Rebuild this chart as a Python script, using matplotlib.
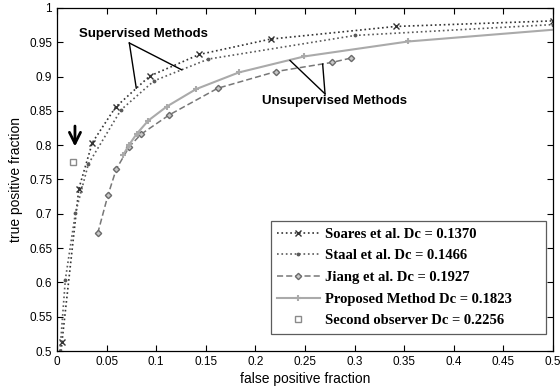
import matplotlib
matplotlib.use("Agg")
import matplotlib.pyplot as plt
import numpy as np

# ROC points
soares_x = [0.0042, 0.005, 0.022, 0.0356, 0.059, 0.0934, 0.1435, 0.2154, 0.3414, 0.5]
soares_y = [0.5, 0.513, 0.7366, 0.8037, 0.8554, 0.9007, 0.9323, 0.9547, 0.9731, 0.9812]

staal_x = [0.003, 0.0084, 0.0185, 0.0316, 0.0645, 0.0978, 0.1525, 0.3004, 0.5]
staal_y = [0.5, 0.604, 0.7007, 0.7726, 0.8515, 0.8938, 0.9255, 0.96, 0.9758]

jiang_x = [0.041, 0.0514, 0.0598, 0.0729, 0.0847, 0.1132, 0.162, 0.2208, 0.2769, 0.2964]
jiang_y = [0.6714, 0.7274, 0.7653, 0.7979, 0.816, 0.8442, 0.883, 0.9074, 0.9206, 0.927]

proposed_x = [0.0668, 0.0726, 0.0803, 0.092, 0.1106, 0.1401, 0.1832, 0.2493, 0.3541, 0.5]
proposed_y = [0.786, 0.8004, 0.8165, 0.8359, 0.8563, 0.8817, 0.906, 0.9294, 0.9512, 0.9683]

observer_x = [0.0165]
observer_y = [0.776]

labels = ["Soares et al. Dc = 0.1370",
          "Staal et al. Dc = 0.1466",
          "Jiang et al. Dc = 0.1927",
          "Proposed Method Dc = 0.1823",
          "Second observer Dc = 0.2256"]

plt.rcParams['font.family'] = ['Liberation Sans', 'DejaVu Sans']

fig = plt.figure(figsize=(5.6, 3.9), dpi=100)
ax = fig.add_axes([0.1018, 0.1, 0.8857, 0.8795])

ax.plot(soares_x, soares_y, color='#333333', linestyle=':', linewidth=1.2,
        marker='x', markersize=4, markeredgewidth=1.0,
        markevery=slice(1, None), label=labels[0])
ax.plot(staal_x, staal_y, color='#5a5a5a', linestyle=':', linewidth=1.2,
        marker='.', markersize=3.5, label=labels[1])
ax.plot(jiang_x, jiang_y, color='#777777', linestyle='--', linewidth=1.1,
        dashes=(4, 2), marker='D', markersize=3.2, markerfacecolor='#c8c8c8',
        markeredgecolor='#6a6a6a', label=labels[2])
ax.plot(proposed_x, proposed_y, color='#aaaaaa', linestyle='-', linewidth=1.5,
        marker='+', markersize=4.5, markeredgewidth=1.5,
        markevery=slice(0, -1), label=labels[3])
ax.plot(observer_x, observer_y, linestyle='none', marker='s', markersize=4,
        markerfacecolor='white', markeredgecolor='#8a8a8a', label=labels[4])

# arrow pointing at the second observer
ax.annotate("", xy=(0.0181, 0.794), xytext=(0.0181, 0.832),
            arrowprops=dict(arrowstyle='->', color='black', lw=2,
                            mutation_scale=20))

# callouts
ax.text(0.0872, 0.9625, "Supervised Methods", fontsize=9.5, fontweight='bold',
        ha='center', va='center')
ax.plot([0.0729, 0.0799], [0.949, 0.8832], color='black', linewidth=1)
ax.plot([0.0729, 0.1257], [0.949, 0.9099], color='black', linewidth=1)

ax.text(0.2802, 0.8646, "Unsupervised Methods", fontsize=9.5, fontweight='bold',
        ha='center', va='center')
ax.plot([0.2702, 0.2349], [0.8748, 0.9235], color='black', linewidth=1)
ax.plot([0.2702, 0.2678], [0.8748, 0.9182], color='black', linewidth=1)

ax.set_xlim(0, 0.5)
ax.set_ylim(0.5, 1)
ax.set_xticks(np.arange(0, 0.501, 0.05))
ax.set_yticks(np.arange(0.5, 1.001, 0.05))
ax.set_xticklabels([f"{v:g}" for v in np.round(np.arange(0, 0.501, 0.05), 2)])
ax.set_yticklabels([f"{v:g}" for v in np.round(np.arange(0.5, 1.001, 0.05), 2)])
ax.tick_params(direction='in', top=True, right=True, labelsize=8.5,
               length=4, width=0.8, colors='black')
for s in ax.spines.values():
    s.set_linewidth(0.9)

ax.set_xlabel("false positive fraction", fontsize=10, labelpad=3)
ax.set_ylabel("true positive fraction", fontsize=10, labelpad=4)

leg = ax.legend(loc='upper left', bbox_to_anchor=(0.431, 0.0, 0.555, 0.379),
                mode='expand',
                prop={'family': 'Liberation Serif', 'weight': 'bold', 'size': 10.5},
                frameon=True, fancybox=False, edgecolor='#333333',
                handlelength=2.9, labelspacing=0.58, borderpad=0.45,
                handletextpad=0.35, borderaxespad=0)
leg.get_frame().set_linewidth(0.9)

fig.savefig("out.png", dpi=100)
